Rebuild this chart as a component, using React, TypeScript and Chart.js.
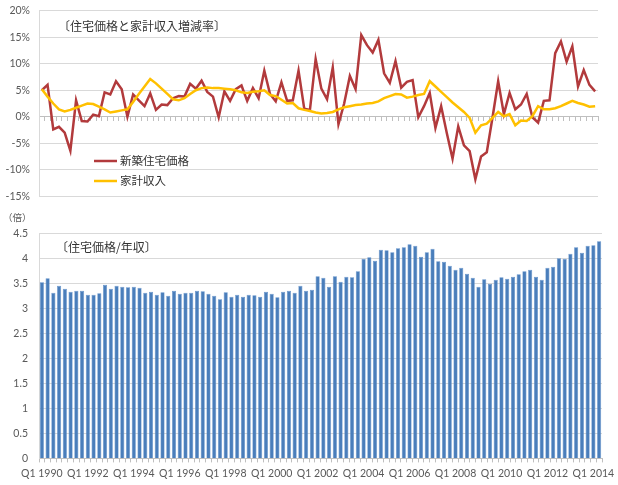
import React, { useEffect, useRef } from "react";
import { Chart, type ChartConfiguration, type Plugin, registerables } from "chart.js";

Chart.register(...registerables);

// quarterly labels, Q1 1990 .. Q2 2014
const years = [
  1990, 1991, 1992, 1993, 1994, 1995, 1996, 1997, 1998, 1999, 2000, 2001, 2002,
  2003, 2004, 2005, 2006, 2007, 2008, 2009, 2010, 2011, 2012, 2013, 2014,
];
const quarterNames = ["Q1", "Q2", "Q3", "Q4"];
const quarterLabels: string[] = [];
years.forEach((y) => quarterNames.forEach((q) => quarterLabels.push(`${q} ${y}`)));
const labels = quarterLabels.slice(0, 98);

// 新築住宅価格 増減率 (%)
const newHousePriceGrowth = [
  5.0, 6.0, -2.4, -1.9, -3.0, -6.4, 3.1, -0.8, -0.9, 0.4,
  0.1, 4.6, 4.2, 6.7, 5.2, 0.0, 4.2, 3.1, 2.0, 4.4,
  1.3, 2.3, 2.2, 3.5, 3.9, 3.8, 6.2, 5.3, 6.8, 4.7,
  3.8, -0.1, 4.8, 3.0, 5.2, 5.9, 3.0, 5.4, 3.5, 8.7,
  4.3, 2.9, 6.5, 3.0, 3.1, 8.7, 1.5, 1.3, 10.9, 5.3,
  3.3, 9.3, -1.4, 2.5, 7.7, 5.2, 15.4, 13.5, 12.1, 14.5,
  8.2, 6.4, 10.5, 5.5, 6.6, 6.9, -0.1, 2.0, 4.5, -2.1,
  2.0, -3.1, -7.9, -1.8, -5.4, -6.5, -11.8, -7.5, -6.7, -0.2,
  6.7, 0.5, 4.5, 1.4, 2.3, 4.3, -0.1, -1.1, 3.0, 3.1,
  12.0, 14.2, 10.4, 13.3, 5.7, 8.8, 6.0, 4.8,
];

// 家計収入 増減率 (%)
const householdIncomeGrowth = [
  5.2, 3.8, 2.5, 1.4, 1.0, 1.3, 1.7, 2.1, 2.5, 2.4,
  1.9, 1.4, 0.8, 1.0, 1.2, 1.4, 2.8, 4.3, 5.7, 7.1,
  6.3, 5.3, 4.3, 3.3, 3.1, 3.5, 4.3, 5.0, 5.4, 5.5,
  5.4, 5.4, 5.3, 5.2, 5.0, 4.6, 4.5, 4.7, 4.8, 5.0,
  4.1, 3.9, 3.2, 2.5, 2.6, 1.6, 1.3, 1.1, 0.8, 0.6,
  0.7, 0.9, 1.4, 1.8, 2.0, 2.2, 2.3, 2.5, 2.6, 2.9,
  3.5, 3.9, 4.3, 4.2, 3.6, 3.8, 4.1, 4.3, 6.7, 5.7,
  4.7, 3.7, 2.7, 1.8, 0.9, -0.2, -3.0, -1.6, -1.3, -0.2,
  0.9, 0.1, 0.5, -1.6, -0.7, -0.8, 0.1, 2.0, 1.4, 1.4,
  1.6, 2.0, 2.5, 3.0, 2.6, 2.3, 1.9, 2.0,
];

// 住宅価格/年収 (倍)
const priceToIncome = [
  3.52, 3.6, 3.31, 3.45, 3.39, 3.33, 3.35, 3.35, 3.27, 3.27,
  3.3, 3.47, 3.39, 3.45, 3.43, 3.42, 3.43, 3.41, 3.31, 3.33,
  3.27, 3.32, 3.25, 3.35, 3.29, 3.31, 3.31, 3.35, 3.34, 3.29,
  3.25, 3.18, 3.32, 3.23, 3.27, 3.23, 3.27, 3.26, 3.23, 3.33,
  3.29, 3.22, 3.33, 3.35, 3.31, 3.45, 3.35, 3.37, 3.64, 3.61,
  3.43, 3.64, 3.53, 3.63, 3.62, 3.74, 3.99, 4.02, 3.95, 4.17,
  4.16, 4.12, 4.2, 4.22, 4.28, 4.25, 4.03, 4.12, 4.19, 3.94,
  3.93, 3.85, 3.77, 3.81, 3.69, 3.61, 3.43, 3.58, 3.49, 3.57,
  3.62, 3.59, 3.63, 3.68, 3.74, 3.77, 3.63, 3.57, 3.81, 3.83,
  4.0, 3.99, 4.09, 4.22, 4.11, 4.25, 4.26, 4.34,
];

const RED = "#B23A3C";
const GOLD = "#FFC000";
const BLUE = "#4A7EBB";
const GRID = "#d9d9d9";
const AXIS = "#bfbfbf";
const TICK_COLOR = "#595959";
const LATIN = "Lato, 'Noto Sans CJK JP', sans-serif";
const CJK = "'Noto Sans CJK JP', sans-serif";

const tickFont = { family: LATIN, size: 10.5 };

// title + legend drawn inside the plot area
const growthOverlay: Plugin<"line"> = {
  id: "growthOverlay",
  afterDraw(chart) {
    const ctx = chart.ctx;
    ctx.save();
    ctx.fillStyle = "#333";
    ctx.textBaseline = "middle";
    ctx.textAlign = "left";
    ctx.font = `12px ${CJK}`;
    ctx.fillText("〔住宅価格と家計収入増減率〕", 58, 26);
    chart.data.datasets.forEach((ds, i) => {
      const y = 161 + i * 20;
      ctx.strokeStyle = ds.borderColor as string;
      ctx.lineWidth = 2.5;
      ctx.beginPath();
      ctx.moveTo(94, y);
      ctx.lineTo(117, y);
      ctx.stroke();
      ctx.font = `11.5px ${CJK}`;
      ctx.fillText(String(ds.label), 120, y);
    });
    ctx.restore();
  },
};

const ratioOverlay: Plugin<"bar"> = {
  id: "ratioOverlay",
  afterDraw(chart) {
    const ctx = chart.ctx;
    ctx.save();
    ctx.fillStyle = "#333";
    ctx.textBaseline = "middle";
    ctx.textAlign = "left";
    ctx.font = `12px ${CJK}`;
    ctx.fillText("〔住宅価格/年収〕", 56, 42);
    ctx.fillStyle = TICK_COLOR;
    ctx.font = `9.5px ${CJK}`;
    ctx.fillText("（倍）", 3, 12);
    ctx.restore();
  },
};

// y-axis: fixed width, label gap made with invisible tick marks
// (ticks.padding would also pad the chart area top/bottom)
const yAxisBase = (gap: number) => ({
  afterFit: (scale: { width: number }) => {
    scale.width = 39;
  },
  grid: { color: GRID, drawTicks: true, tickLength: gap, tickColor: "rgba(0,0,0,0)" },
  border: { color: GRID },
});

function GrowthChart() {
  const chartRef = useRef<HTMLCanvasElement | null>(null);

  useEffect(() => {
    if (!chartRef.current) return;

    const config: ChartConfiguration<"line"> = {
      type: "line",
      data: {
        labels,
        datasets: [
          {
            label: "新築住宅価格",
            data: newHousePriceGrowth,
            borderColor: RED,
            borderWidth: 2.5,
            pointRadius: 0,
            tension: 0,
            order: 2,
          },
          {
            label: "家計収入",
            data: householdIncomeGrowth,
            borderColor: GOLD,
            borderWidth: 2.5,
            pointRadius: 0,
            tension: 0,
            order: 1,
          },
        ],
      },
      options: {
        animation: false,
        responsive: true,
        maintainAspectRatio: false,
        layout: { padding: { top: 10.7, right: 20, bottom: 8.7, left: 0 } },
        plugins: {
          legend: { display: false },
          tooltip: { enabled: false },
        },
        scales: {
          x: {
            offset: true,
            position: { y: 0 },
            grid: {
              offset: true,
              drawOnChartArea: false,
              drawTicks: true,
              tickLength: 4,
              color: AXIS,
            },
            border: { color: AXIS },
            ticks: { display: false, autoSkip: false },
          },
          y: {
            ...yAxisBase(9),
            min: -15,
            max: 20,
            ticks: {
              stepSize: 5,
              padding: 0,
              color: TICK_COLOR,
              font: tickFont,
              callback: (v) => `${v}%`,
            },
          },
        },
      },
      plugins: [growthOverlay],
    };

    const chart = new Chart(chartRef.current, config);
    return () => chart.destroy();
  }, []);

  return <canvas ref={chartRef} />;
}

function RatioChart() {
  const chartRef = useRef<HTMLCanvasElement | null>(null);

  useEffect(() => {
    if (!chartRef.current) return;

    const config: ChartConfiguration<"bar"> = {
      type: "bar",
      data: {
        labels,
        datasets: [
          {
            label: "住宅価格/年収",
            data: priceToIncome,
            backgroundColor: BLUE,
            borderColor: "#5d8ec8",
            borderWidth: 0.6,
            barPercentage: 0.72,
            categoryPercentage: 1,
          },
        ],
      },
      options: {
        animation: false,
        responsive: true,
        maintainAspectRatio: false,
        layout: { padding: { top: 28.3, right: 16, bottom: 0, left: 0 } },
        plugins: {
          legend: { display: false },
          tooltip: { enabled: false },
        },
        scales: {
          x: {
            grid: {
              drawOnChartArea: false,
              drawTicks: true,
              tickLength: 4,
              color: AXIS,
            },
            border: { color: AXIS },
            ticks: {
              autoSkip: false,
              maxRotation: 0,
              minRotation: 0,
              padding: 5,
              color: TICK_COLOR,
              font: tickFont,
              callback: (_v, i) => (i % 8 === 0 ? labels[i] : ""),
            },
          },
          y: {
            ...yAxisBase(11),
            min: 0,
            max: 4.5,
            ticks: {
              stepSize: 0.5,
              padding: 0,
              color: TICK_COLOR,
              font: tickFont,
              callback: (v) => String(v),
            },
          },
        },
      },
      plugins: [ratioOverlay],
    };

    const chart = new Chart(chartRef.current, config);
    return () => chart.destroy();
  }, []);

  return <canvas ref={chartRef} />;
}

export default function App() {
  return (
    <div
      style={{
        position: "absolute",
        left: 0,
        top: 0,
        width: 618,
        height: 485,
        background: "#fff",
      }}
    >
      <div style={{ position: "relative", width: 618, height: 205 }}>
        <GrowthChart />
      </div>
      <div style={{ position: "relative", width: 618, height: 280 }}>
        <RatioChart />
      </div>
    </div>
  );
}
